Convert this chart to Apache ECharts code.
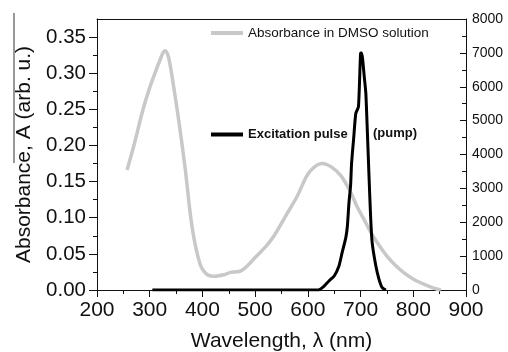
<!DOCTYPE html>
<html>
<head>
<meta charset="utf-8">
<script src="https://cdn.jsdelivr.net/npm/echarts@6/dist/echarts.min.js"></script>
<style>
html,body{margin:0;padding:0;background:#fff;}
#chart{width:508px;height:352px;}
</style>
</head>
<body>
<div id="chart"></div>
<script>
// Absorbance in DMSO solution (left axis): wavelength nm, absorbance
const absWavelength = [257, 270, 287, 300, 314, 321, 325, 329, 333, 337, 344, 355, 367, 380, 395, 408, 424, 440, 452, 471, 480, 490, 500, 520, 536, 560, 580, 598, 612, 627, 645, 663, 680, 693, 707, 720, 735, 750, 765, 782, 798, 814, 830, 846, 852];
const absValues     = [0.166, 0.200, 0.249, 0.280, 0.308, 0.321, 0.328, 0.331, 0.328, 0.318, 0.288, 0.235, 0.170, 0.089, 0.037, 0.022, 0.019, 0.021, 0.024, 0.026, 0.030, 0.037, 0.045, 0.060, 0.075, 0.105, 0.130, 0.158, 0.170, 0.175, 0.170, 0.158, 0.137, 0.116, 0.097, 0.079, 0.062, 0.047, 0.035, 0.024, 0.016, 0.010, 0.005, 0.001, 0.000];
// Excitation pulse (pump) (right axis)
const pumpWavelength = [305, 400, 500, 600, 620, 631, 640, 650, 659, 665, 672, 675, 678, 681, 683, 687, 691, 696, 700, 702, 707, 710, 713, 716, 719, 722, 729, 735, 741, 748];
const pumpValues     = [0, 0, 0, 0, 0, 118, 266, 413, 708, 1101, 1545, 1889, 2577, 3070, 3750, 4500, 5215, 5410, 6986, 7000, 6296, 5806, 4625, 3365, 2184, 1396, 708, 315, 69, 0];

const absName = 'Absorbance in DMSO solution';
const pumpName = 'Excitation pulse';
const xTitle = 'Wavelength, \u03bb (nm)';
const yLeftTitle = 'Absorbance, A (arb. u.)';
const pumpNote = '(pump)';

const leftMajor = [0, 0.05, 0.10, 0.15, 0.20, 0.25, 0.30, 0.35];
const leftMinor = [0.025, 0.075, 0.125, 0.175, 0.225, 0.275, 0.325];

const font = 'Liberation Sans, Arial, sans-serif';
const ink = '#111';

const chart = echarts.init(document.getElementById('chart'), null, {renderer: 'canvas'});
chart.setOption({
  animation: false,
  backgroundColor: '#fff',
  grid: {left: 97, right: 42, top: 19, bottom: 62, containLabel: false, outerBoundsMode: 'none'},
  legend: [
    {left: 211, top: 26, padding: 0, icon: 'rect', itemWidth: 32, itemHeight: 4,
     data: [absName], textStyle: {fontFamily: font, fontSize: 13.5, color: ink}},
    {left: 211, top: 128, padding: 0, icon: 'rect', itemWidth: 32, itemHeight: 4,
     data: [pumpName], textStyle: {fontFamily: font, fontSize: 13, fontWeight: 'bold', color: ink}}
  ],
  graphic: [
    {type: 'text', left: 373, top: 127, style: {text: pumpNote, font: 'bold 13px ' + font, fill: ink}},
    {type: 'line', shape: {x1: 14, y1: 13, x2: 14, y2: 163}, style: {stroke: '#333', lineWidth: 1}}
  ],
  xAxis: [
    {type: 'value', position: 'bottom', min: 200, max: 900, interval: 100,
     name: xTitle, nameLocation: 'middle', nameGap: 41,
     nameTextStyle: {fontFamily: font, fontSize: 21, color: ink},
     axisLine: {show: true, onZero: false, lineStyle: {color: ink, width: 1}},
     axisTick: {show: true, inside: false, length: 7, lineStyle: {color: ink}},
     minorTick: {show: true, splitNumber: 2, length: 4, lineStyle: {color: ink}},
     axisLabel: {fontFamily: font, fontSize: 21, color: ink, margin: 10},
     splitLine: {show: false}, minorSplitLine: {show: false}},
    {type: 'value', position: 'top', min: 200, max: 900, interval: 100,
     axisLine: {show: true, onZero: false, lineStyle: {color: ink, width: 1}},
     axisTick: {show: false}, axisLabel: {show: false}, splitLine: {show: false}}
  ],
  yAxis: [
    {type: 'value', position: 'left', min: 0, max: 0.375,
     name: yLeftTitle, nameLocation: 'middle', nameGap: 62,
     nameTextStyle: {fontFamily: font, fontSize: 21, color: ink},
     axisLine: {show: true, onZero: false, lineStyle: {color: ink, width: 1}},
     axisTick: {show: true, inside: false, length: 8, customValues: leftMajor, lineStyle: {color: ink}},
     axisLabel: {fontFamily: font, fontSize: 20.5, color: ink, margin: 11, customValues: leftMajor,
                 formatter: v => v.toFixed(2)},
     splitLine: {show: false}},
    {type: 'value', position: 'left', min: 0, max: 0.375,
     axisLine: {show: false},
     axisTick: {show: true, inside: false, length: 4, customValues: leftMinor, lineStyle: {color: ink}},
     axisLabel: {show: false}, splitLine: {show: false}},
    {type: 'value', position: 'right', min: 0, max: 8000, interval: 1000,
     axisLine: {show: true, onZero: false, lineStyle: {color: ink, width: 1}},
     axisTick: {show: true, inside: true, length: 6, lineStyle: {color: ink}},
     minorTick: {show: true, splitNumber: 2, length: 4, lineStyle: {color: ink}},
     axisLabel: {fontFamily: font, fontSize: 14, color: ink, margin: 6, formatter: v => String(v)},
     splitLine: {show: false}, minorSplitLine: {show: false}}
  ],
  series: [
    {name: absName, type: 'line', xAxisIndex: 0, yAxisIndex: 0, symbol: 'none', smooth: 0.3,
     lineStyle: {color: '#c8c8c8', width: 3.5}, itemStyle: {color: '#c8c8c8'},
     data: absWavelength.map((w, i) => [w, absValues[i]])},
    {name: pumpName, type: 'line', xAxisIndex: 0, yAxisIndex: 2, symbol: 'none', smooth: 0.2,
     lineStyle: {color: '#000', width: 3}, itemStyle: {color: '#000'},
     data: pumpWavelength.map((w, i) => [w, pumpValues[i]])}
  ]
});
</script>
</body>
</html>
